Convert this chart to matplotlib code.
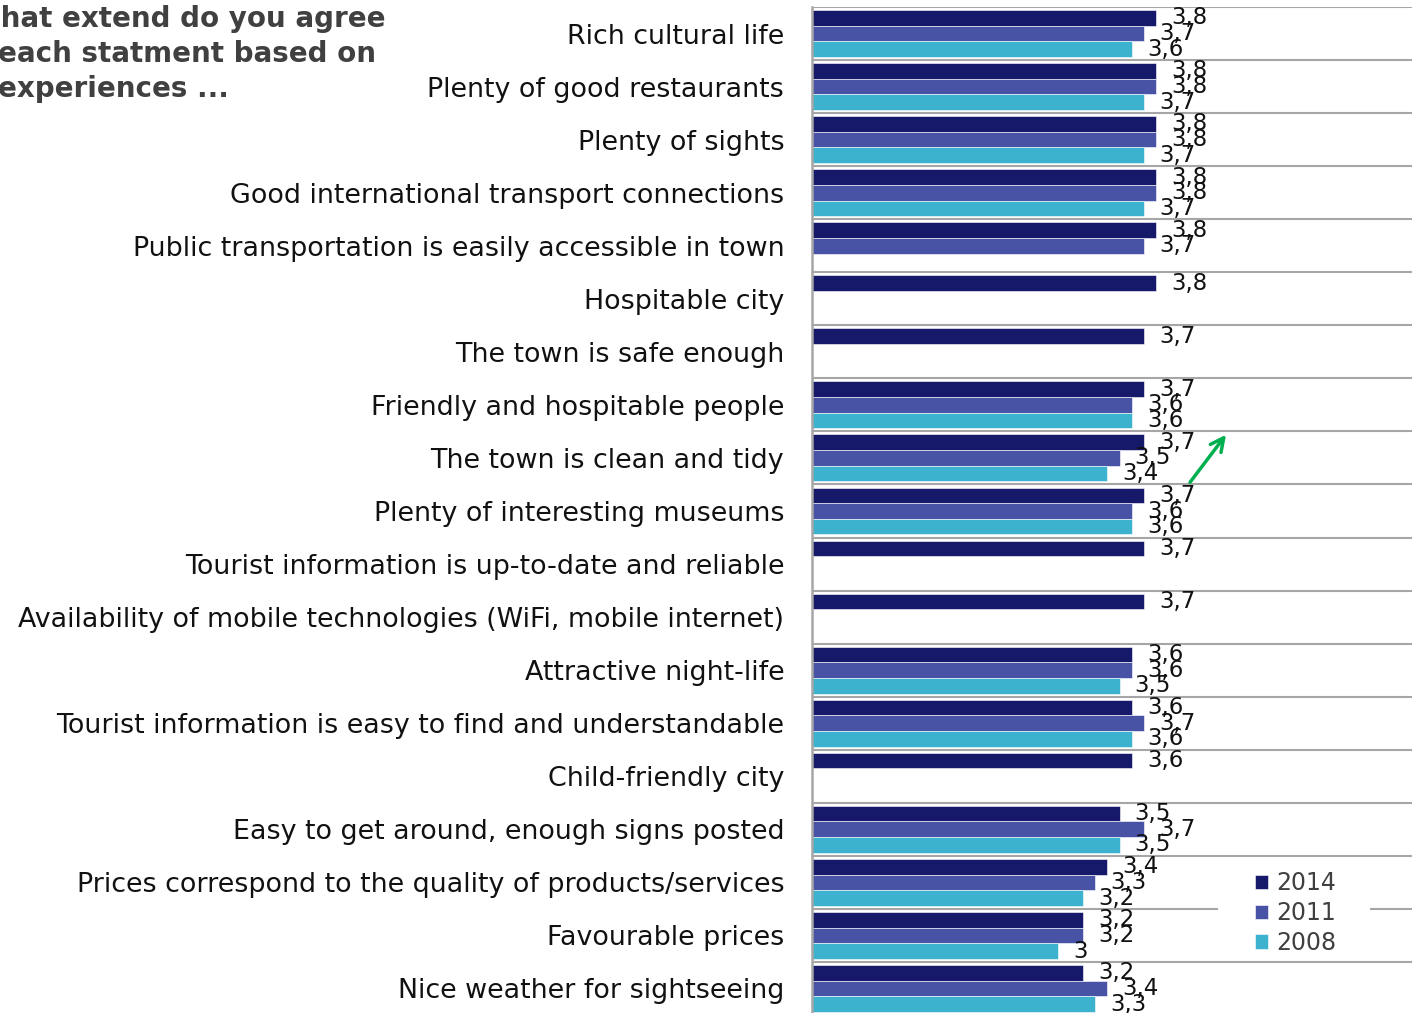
import numpy as np
import matplotlib
matplotlib.use("Agg")
import matplotlib.pyplot as plt
from matplotlib.patches import Rectangle

# statements, top to bottom
categories = [
    "Rich cultural life",
    "Plenty of good restaurants",
    "Plenty of sights",
    "Good international transport connections",
    "Public transportation is easily accessible in town",
    "Hospitable city",
    "The town is safe enough",
    "Friendly and hospitable people",
    "The town is clean and tidy",
    "Plenty of interesting museums",
    "Tourist information is up-to-date and reliable",
    "Availability of mobile technologies (WiFi, mobile internet)",
    "Attractive night-life",
    "Tourist information is easy to find and understandable",
    "Child-friendly city",
    "Easy to get around, enough signs posted",
    "Prices correspond to the quality of products/services",
    "Favourable prices",
    "Nice weather for sightseeing",
]

nan = np.nan
values_2014 = [3.8, 3.8, 3.8, 3.8, 3.8, 3.8, 3.7, 3.7, 3.7, 3.7, 3.7, 3.7, 3.6, 3.6, 3.6, 3.5, 3.4, 3.2, 3.2]
values_2011 = [3.7, 3.8, 3.8, 3.8, 3.7, nan, nan, 3.6, 3.5, 3.6, nan, nan, 3.6, 3.7, nan, 3.7, 3.3, 3.2, 3.4]
values_2008 = [3.6, 3.7, 3.7, 3.7, nan, nan, nan, 3.6, 3.4, 3.6, nan, nan, 3.5, 3.6, nan, 3.5, 3.2, 3.0, 3.3]

series_names = ["2014", "2011", "2008"]
series_colors = ["#16196a", "#4953a6", "#3db2cf"]

title_lines = ["What extend do you agree", "each statment based on", "experiences ..."]


def fmt_value(v):
    # Excel-like "general" format with decimal comma
    if np.isnan(v):
        return ""
    if float(v).is_integer():
        return str(int(v))
    return f"{v:.1f}".replace(".", ",")


W, H = 1412, 1013
fig = plt.figure(figsize=(W / 100, H / 100), dpi=100)
fig.patch.set_facecolor("white")

ax_left = 812 / W
ax_top = 1 - 7 / H
ax_bottom = 1 - 1015 / H
ax = fig.add_axes([ax_left, ax_bottom, 1 - ax_left, ax_top - ax_bottom])

n = len(categories)
y = np.arange(n)
bar_h = 0.295
base = 1.0

all_series = [values_2014, values_2011, values_2008]
for k, (vals, name, col) in enumerate(zip(all_series, series_names, series_colors)):
    vals = np.array(vals, dtype=float)
    offs = (k - 1) * bar_h
    widths = np.where(np.isnan(vals), 0, vals - base)
    bars = ax.barh(y + offs, widths, left=base, height=bar_h, color=col,
                   edgecolor="white", linewidth=0.4, label=name)
    ax.bar_label(bars, labels=[fmt_value(v) for v in vals], padding=11,
                 fontsize=16.5, color="#111111")

ax.set_xlim(base, base + 600 / 123)
ax.set_ylim(n - 0.5, -0.5)

# row separators
for b in np.arange(-0.5, n + 0.5, 1):
    ax.axhline(b, color="#a6a6a6", lw=1.5, zorder=0)

ax.set_yticks(y)
ax.set_yticklabels(categories, fontsize=19.4, color="#111111")
ax.tick_params(axis="y", length=0, pad=20)
ax.set_xticks([])
for s in ["top", "right", "bottom"]:
    ax.spines[s].set_visible(False)
ax.spines["left"].set_color("#a6a6a6")
ax.spines["left"].set_linewidth(1.8)

# green arrow next to "clean and tidy"
ax.annotate("", xy=(4.38, 7.52), xytext=(4.06, 8.5),
            arrowprops=dict(arrowstyle="->", color="#00b050", lw=2.5,
                            mutation_scale=24))

# white box behind the legend that hides the separator line
ax.add_patch(Rectangle((1218 / W, 1 - 952 / H), 152 / W, 82 / H,
                       transform=fig.transFigure, facecolor="white",
                       edgecolor="none", zorder=4, clip_on=False))

leg = ax.legend(loc="center", bbox_to_anchor=(1296 / W, 1 - 913 / H),
                bbox_transform=fig.transFigure, fontsize=17, frameon=False,
                handlelength=0.55, handleheight=0.55, handletextpad=0.35,
                labelspacing=0.25, borderpad=0.2, borderaxespad=0)
leg.set_zorder(5)
for t in leg.get_texts():
    t.set_color("#404040")

# title, cut off at the left edge like the reference
title_x = [-30, -2, -2]
title_y = [19, 54, 89]
for line, tx, ty in zip(title_lines, title_x, title_y):
    fig.text(tx / W, 1 - ty / H, line, fontsize=20, fontweight="bold",
             color="#404040", ha="left", va="center")

fig.savefig("out.png", dpi=100)
